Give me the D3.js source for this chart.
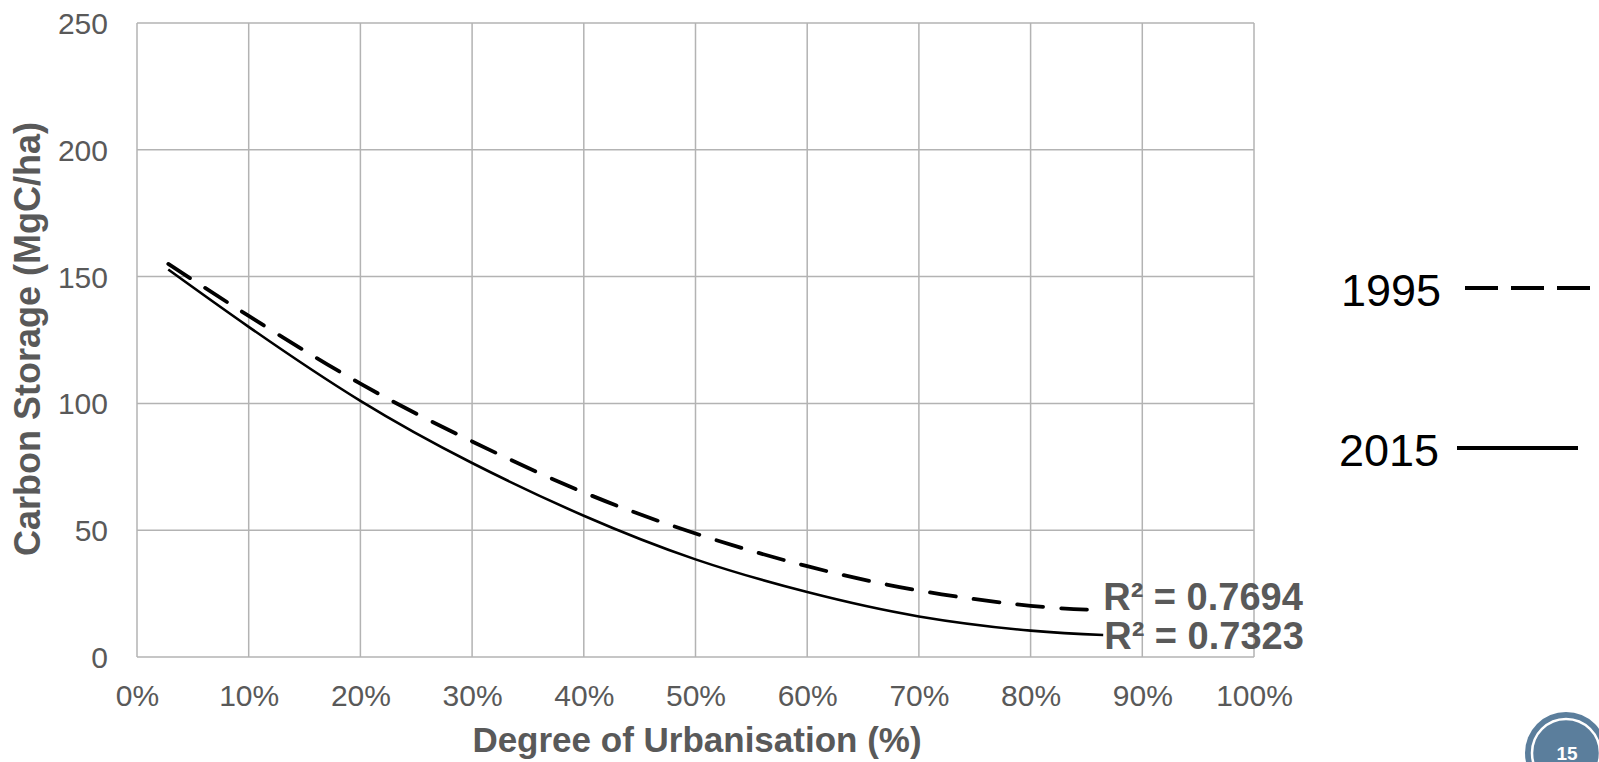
<!DOCTYPE html>
<html>
<head>
<meta charset="utf-8">
<script src="https://cdn.jsdelivr.net/npm/d3@7"></script>
<style>
  html, body { margin: 0; padding: 0; background: #fff; }
  svg { display: block; }
</style>
</head>
<body>
<svg id="chart" width="1599" height="762"></svg>
<script>
// ---- data ----
const urbanisation = [2.8, 10, 20, 30, 40, 50, 60, 70, 80, 86.5];          // % degree of urbanisation
const carbon1995   = [155.0, 134.5, 107.8, 85.0, 64.9, 48.7, 35.8, 26.2, 20.2, 18.4];
const carbon2015   = [152.8, 130.2, 101.0, 76.5, 55.7, 38.5, 25.6, 16.0, 10.4, 8.7];
const seriesNames  = ["1995", "2015"];
const r2Labels     = ["R² = 0.7694", "R² = 0.7323"];
const xTicks       = [0, 10, 20, 30, 40, 50, 60, 70, 80, 90, 100];
const yTicks       = [0, 50, 100, 150, 200, 250];
const xTitle = "Degree of Urbanisation (%)";
const yTitle = "Carbon Storage (MgC/ha)";
const pageNumber = "15";

// ---- layout ----
const svg = d3.select("#chart");
const plot = { left: 137, right: 1254, top: 23, bottom: 657 };
const font = "'Liberation Sans', Arial, sans-serif";
const grey = "#595959";
const gridColor = "#b3b3b3";

const x = d3.scaleLinear().domain([0, 100]).range([plot.left, plot.right]);
const y = d3.scaleLinear().domain([0, 250]).range([plot.bottom, plot.top]);

// grid
const g = svg.append("g");
g.selectAll("line.vx").data(xTicks).join("line")
  .attr("x1", d => x(d)).attr("x2", d => x(d))
  .attr("y1", plot.top).attr("y2", plot.bottom)
  .attr("stroke", gridColor).attr("stroke-width", 1.5);
g.selectAll("line.hy").data(yTicks).join("line")
  .attr("x1", plot.left).attr("x2", plot.right)
  .attr("y1", d => y(d)).attr("y2", d => y(d))
  .attr("stroke", gridColor).attr("stroke-width", 1.5);

// axes (labels only, using d3 axes)
const xAxis = d3.axisBottom(x).tickValues(xTicks).tickFormat(d => d + "%").tickSize(0).tickPadding(28);
const yAxis = d3.axisLeft(y).tickValues(yTicks).tickSize(0).tickPadding(29);
const gx = svg.append("g").attr("transform", `translate(0,${plot.bottom})`).call(xAxis);
const gy = svg.append("g").attr("transform", `translate(${plot.left},0)`).call(yAxis);
[gx, gy].forEach(a => {
  a.select(".domain").remove();
  a.selectAll("text").attr("fill", grey).style("font-family", font).style("font-size", "30px");
});
gy.selectAll("text").attr("dy", "0.35em");

// axis titles
svg.append("text")
  .attr("x", 697).attr("y", 752)
  .attr("text-anchor", "middle")
  .attr("fill", grey)
  .style("font-family", font).style("font-size", "35px").style("font-weight", "bold")
  .text(xTitle);
svg.append("text")
  .attr("transform", `translate(40,339) rotate(-90)`)
  .attr("text-anchor", "middle")
  .attr("fill", grey)
  .style("font-family", font).style("font-size", "36px").style("font-weight", "bold")
  .text(yTitle);

// lines
const line = d3.line().curve(d3.curveNatural)
  .x(d => x(d[0])).y(d => y(d[1]));
const d1995 = urbanisation.map((u, i) => [u, carbon1995[i]]);
const d2015 = urbanisation.map((u, i) => [u, carbon2015[i]]);

svg.append("path").attr("d", line(d2015))
  .attr("fill", "none").attr("stroke", "#000").attr("stroke-width", 2.6);
svg.append("path").attr("d", line(d1995))
  .attr("fill", "none").attr("stroke", "#000").attr("stroke-width", 3.8)
  .attr("stroke-linecap", "round").attr("stroke-dasharray", "26,18");

// R² labels
const lastX = urbanisation[urbanisation.length - 1];
svg.append("text")
  .attr("x", x(lastX)).attr("y", 610)
  .attr("fill", grey)
  .style("font-family", font).style("font-size", "38px").style("font-weight", "bold")
  .text(r2Labels[0]);
svg.append("text")
  .attr("x", x(lastX) + 1).attr("y", 649)
  .attr("fill", grey)
  .style("font-family", font).style("font-size", "38px").style("font-weight", "bold")
  .text(r2Labels[1]);

// legend
const leg = svg.append("g");
leg.append("text").attr("x", 1341).attr("y", 306)
  .style("font-family", font).style("font-size", "45px").attr("fill", "#000")
  .text(seriesNames[0]);
leg.append("line").attr("x1", 1465).attr("x2", 1590).attr("y1", 288).attr("y2", 288)
  .attr("stroke", "#000").attr("stroke-width", 3.8).attr("stroke-dasharray", "33,13");
leg.append("text").attr("x", 1339).attr("y", 466)
  .style("font-family", font).style("font-size", "45px").attr("fill", "#000")
  .text(seriesNames[1]);
leg.append("line").attr("x1", 1457).attr("x2", 1578).attr("y1", 448).attr("y2", 448)
  .attr("stroke", "#000").attr("stroke-width", 3.8);

// page badge
const badge = svg.append("g");
badge.append("circle").attr("cx", 1566).attr("cy", 753).attr("r", 41).attr("fill", "#5b7e9c");
badge.append("circle").attr("cx", 1566).attr("cy", 753).attr("r", 34)
  .attr("fill", "none").attr("stroke", "#fff").attr("stroke-width", 2.5);
badge.append("text").attr("x", 1567).attr("y", 760).attr("text-anchor", "middle")
  .attr("fill", "#fff").style("font-family", font).style("font-size", "19px").style("font-weight", "bold")
  .text(pageNumber);
</script>
</body>
</html>
